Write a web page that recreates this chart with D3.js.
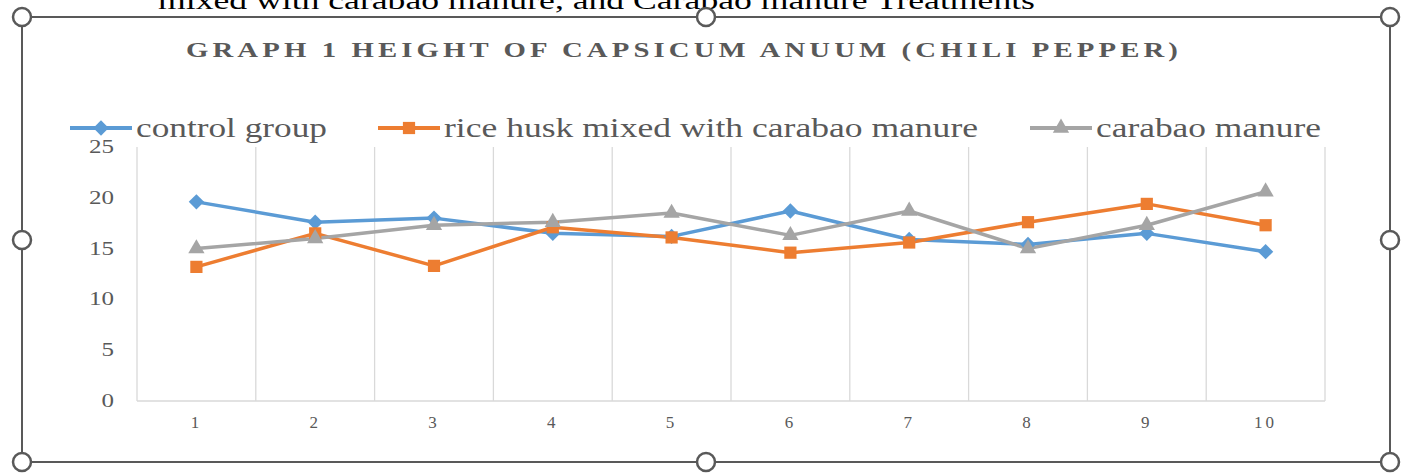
<!DOCTYPE html>
<html>
<head>
<meta charset="utf-8">
<script src="https://cdn.jsdelivr.net/npm/d3@7"></script>
<style>
  body { margin: 0; background: #fff; }
  svg { display: block; font-family: "Liberation Serif", "Times New Roman", serif; }
</style>
</head>
<body>
<div id="chart"></div>
<script>
"use strict";
// data
const weeks = ["1", "2", "3", "4", "5", "6", "7", "8", "9", "10"]
const controlGroup = [19.6, 17.6, 18.0, 16.5, 16.2, 18.7, 15.9, 15.4, 16.5, 14.7]
const riceHusk = [13.2, 16.5, 13.3, 17.1, 16.1, 14.6, 15.6, 17.6, 19.4, 17.3]
const carabao = [15.0, 16.0, 17.3, 17.6, 18.5, 16.3, 18.7, 15.0, 17.3, 20.6]
const yTicks = [0, 5, 10, 15, 20, 25]
const seriesNames = ["control group", "rice husk mixed with carabao manure", "carabao manure"]

const series = [
  {name: seriesNames[0], values: controlGroup, color: "#5b9bd5", marker: d3.symbolDiamond2, size: 150},
  {name: seriesNames[1], values: riceHusk, color: "#ed7d31", marker: d3.symbolSquare2, size: 190},
  {name: seriesNames[2], values: carabao, color: "#a5a5a5", marker: d3.symbolTriangle2, size: 190}
]

let m = {width: 1412, height: 473}
const plot = {left: 137, right: 1325, top: 147, bottom: 401}

const svg = d3.select("#chart").append("svg")
    .attr("width", m.width)
    .attr("height", m.height)

// caption text cut off at the top of the picture (the picture is stretched sideways)
svg.append("text")
    .attr("x", 158)
    .attr("y", 9)
    .attr("font-size", "26px")
    .attr("fill", "#000")
    .attr("textLength", 877)
    .attr("lengthAdjust", "spacingAndGlyphs")
    .text("mixed with carabao manure, and Carabao manure Treatments")

// selection frame
svg.append("rect")
    .attr("x", 22).attr("y", 17)
    .attr("width", 1368).attr("height", 445)
    .attr("fill", "none")
    .attr("stroke", "#595959")
    .attr("stroke-width", 2)

// title (spaced-out caps)
svg.append("text")
    .attr("x", 186)
    .attr("y", 57)
    .attr("font-size", "21px")
    .attr("font-weight", "bold")
    .attr("letter-spacing", "3px")
    .attr("fill", "#595959")
    .attr("textLength", 996)
    .attr("lengthAdjust", "spacingAndGlyphs")
    .text("GRAPH 1 HEIGHT OF CAPSICUM ANUUM (CHILI PEPPER)")

const x = d3.scaleBand()
    .domain(weeks)
    .range([plot.left, plot.right])
const y = d3.scaleLinear()
    .domain([0, 25])
    .range([plot.bottom, plot.top])

// vertical gridlines at category boundaries
const g = svg.append("g")
g.selectAll(".grid")
    .data(weeks.concat(["end"]))
    .enter()
    .append("line")
    .attr("x1", (d, i) => plot.left + i * x.bandwidth())
    .attr("x2", (d, i) => plot.left + i * x.bandwidth())
    .attr("y1", plot.top)
    .attr("y2", plot.bottom)
    .attr("stroke", "#d9d9d9")
    .attr("stroke-width", 1.3)

g.append("line")
    .attr("x1", plot.left).attr("x2", plot.right)
    .attr("y1", plot.bottom).attr("y2", plot.bottom)
    .attr("stroke", "#d9d9d9")
    .attr("stroke-width", 1.3)

// y axis labels
g.selectAll(".ylab")
    .data(yTicks)
    .enter()
    .append("text")
    .attr("x", d => 114 - String(d).length * 12.5)
    .attr("y", d => y(d) + 6)
    .attr("font-size", "18px")
    .attr("fill", "#595959")
    .attr("textLength", d => String(d).length * 12.5)
    .attr("lengthAdjust", "spacingAndGlyphs")
    .text(d => d)

// x axis labels
g.selectAll(".xlab")
    .data(weeks)
    .enter()
    .append("text")
    .attr("x", d => x(d) + x.bandwidth() / 2)
    .attr("y", 428)
    .attr("text-anchor", "middle")
    .attr("font-size", "17px")
    .attr("letter-spacing", "3px")
    .attr("fill", "#595959")
    .text(d => d)

const line = d3.line()
    .x((d, i) => x(weeks[i]) + x.bandwidth() / 2)
    .y(d => y(d))

series.forEach(function(s) {
  g.append("path")
      .datum(s.values)
      .attr("d", line)
      .attr("fill", "none")
      .attr("stroke", s.color)
      .attr("stroke-width", 3.5)
      .attr("stroke-linejoin", "round")
})
series.forEach(function(s) {
  g.selectAll(".pt")
      .data(s.values)
      .enter()
      .append("path")
      .attr("d", d3.symbol().type(s.marker).size(s.size))
      .attr("transform", (d, i) => "translate(" + (x(weeks[i]) + x.bandwidth() / 2) + "," + y(d) + ")")
      .attr("fill", s.color)
})

// legend
const legendX = [70, 378, 1030]
const legendLen = [191, 534, 225]
const legend = svg.append("g")
series.forEach(function(s, i) {
  let lx = legendX[i]
  legend.append("line")
      .attr("x1", lx).attr("x2", lx + 62)
      .attr("y1", 128).attr("y2", 128)
      .attr("stroke", s.color)
      .attr("stroke-width", 4)
  legend.append("path")
      .attr("d", d3.symbol().type(s.marker).size(s.size))
      .attr("transform", "translate(" + (lx + 31) + ",128)")
      .attr("fill", s.color)
  legend.append("text")
      .attr("x", lx + 66)
      .attr("y", 137)
      .attr("font-size", "27px")
      .attr("fill", "#595959")
      .attr("textLength", legendLen[i])
      .attr("lengthAdjust", "spacingAndGlyphs")
      .text(s.name)
})

// resize handles
const handles = [[22, 17], [706, 17], [1390, 17], [22, 240], [1390, 240], [22, 462], [706, 462], [1390, 462]]
svg.selectAll(".handle")
    .data(handles)
    .enter()
    .append("circle")
    .attr("cx", d => d[0])
    .attr("cy", d => d[1])
    .attr("r", 9)
    .attr("fill", "#fff")
    .attr("stroke", "#595959")
    .attr("stroke-width", 2.5)
</script>
</body>
</html>
